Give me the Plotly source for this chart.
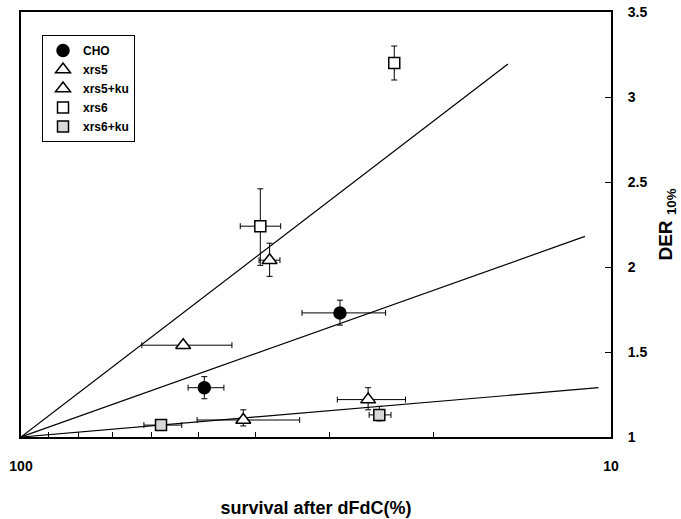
import plotly.graph_objects as go

# ---- data ----
series_names = ["CHO", "xrs5", "xrs5+ku", "xrs6", "xrs6+ku"]

cho_surv = [48.9, 28.8]
cho_surv_plus = [3.2, 4.6]
cho_surv_minus = [3.6, 4.7]
cho_der = [1.29, 1.73]
cho_der_plus = [0.065, 0.075]
cho_der_minus = [0.065, 0.072]

xrs5_surv = [53.1, 37.9]
xrs5_surv_plus = [9.3, 1.6]
xrs5_surv_minus = [9.2, 1.5]
xrs5_der = [1.54, 2.04]
xrs5_der_plus = [0.02, 0.10]
xrs5_der_minus = [0.02, 0.095]

xrs5ku_surv = [42.0, 25.8]
xrs5ku_surv_plus = [8.3, 3.3]
xrs5ku_surv_minus = [8.3, 3.5]
xrs5ku_der = [1.10, 1.22]
xrs5ku_der_plus = [0.06, 0.07]
xrs5ku_der_minus = [0.035, 0.06]

xrs6_surv = [39.3, 23.3]
xrs6_surv_plus = [3.2, 0.0]
xrs6_surv_minus = [3.0, 0.0]
xrs6_der = [2.24, 3.20]
xrs6_der_plus = [0.22, 0.10]
xrs6_der_minus = [0.23, 0.10]

xrs6ku_surv = [57.9, 24.7]
xrs6ku_surv_plus = [4.0, 1.0]
xrs6ku_surv_minus = [4.5, 1.1]
xrs6ku_der = [1.07, 1.13]
xrs6ku_der_plus = [0.01, 0.05]
xrs6ku_der_minus = [0.01, 0.035]

# reference lines: start (100, 1) -> end points
line_start = (100, 1.0)
line_ends_surv = [14.95, 11.07, 10.5]
line_ends_der = [3.194, 2.18, 1.29]

x_tick_vals = [100, 10]
x_tick_text = ["100", "10"]
x_minor_vals = [90, 80, 70, 60, 50, 40, 30, 20]
y_tick_vals = [1, 1.5, 2, 2.5, 3, 3.5]
y_tick_text = ["1", "1.5", "2", "2.5", "3", "3.5"]

FONT = "Liberation Sans, Arial, sans-serif"

fig = go.Figure()

for xe, ye in zip(line_ends_surv, line_ends_der):
    fig.add_trace(go.Scatter(
        x=[line_start[0], xe], y=[line_start[1], ye], mode="lines",
        line=dict(color="black", width=1.2), showlegend=False, hoverinfo="skip"))

def add_series(name, sx, sxp, sxm, dy, dyp, dym, symbol, fill, size):
    fig.add_trace(go.Scatter(
        x=sx, y=dy, mode="markers", name=name,
        marker=dict(symbol=symbol, size=size, color=fill,
                    line=dict(color="black", width=1.5)),
        error_x=dict(type="data", symmetric=False, array=sxp, arrayminus=sxm,
                     color="black", thickness=1, width=3),
        error_y=dict(type="data", symmetric=False, array=dyp, arrayminus=dym,
                     color="black", thickness=1, width=3),
    ))

add_series(series_names[0], cho_surv, cho_surv_plus, cho_surv_minus,
           cho_der, cho_der_plus, cho_der_minus, "circle", "black", 12)
add_series(series_names[1], xrs5_surv, xrs5_surv_plus, xrs5_surv_minus,
           xrs5_der, xrs5_der_plus, xrs5_der_minus, "triangle-up", "white", 13)
add_series(series_names[2], xrs5ku_surv, xrs5ku_surv_plus, xrs5ku_surv_minus,
           xrs5ku_der, xrs5ku_der_plus, xrs5ku_der_minus, "triangle-up", "white", 13)
add_series(series_names[3], xrs6_surv, xrs6_surv_plus, xrs6_surv_minus,
           xrs6_der, xrs6_der_plus, xrs6_der_minus, "square", "white", 11)
add_series(series_names[4], xrs6ku_surv, xrs6ku_surv_plus, xrs6ku_surv_minus,
           xrs6ku_der, xrs6ku_der_plus, xrs6ku_der_minus, "square", "#d9d9d9", 11)

fig.update_layout(
    width=681, height=519,
    margin=dict(l=21, r=70, t=12, b=82, autoexpand=False),
    paper_bgcolor="white", plot_bgcolor="white",
    font=dict(family=FONT, color="black", size=13, weight="bold"),
    showlegend=True,
    legend=dict(x=0.0356, y=0.946, xanchor="left", yanchor="top",
                bordercolor="black", borderwidth=1, bgcolor="white",
                font=dict(family=FONT, size=12, weight="bold"),
                tracegroupgap=0, itemwidth=30),
    xaxis=dict(type="log", range=[2, 1], tickmode="array",
               tickvals=x_tick_vals, ticktext=x_tick_text,
               ticks="", automargin=False,
               minor=dict(tickmode="array", tickvals=x_minor_vals, ticks="inside",
                          ticklen=5, tickwidth=1, tickcolor="black", showgrid=False),
               showline=True, linewidth=2, linecolor="black", mirror=True,
               showgrid=False, zeroline=False, ticklabelstandoff=15,
               tickfont=dict(family=FONT, size=14, weight="bold"),
               title=dict(text="survival after dFdC(%)", standoff=29,
                          font=dict(family=FONT, size=18, weight="bold"))),
    yaxis=dict(side="right", range=[1, 3.5], tickmode="array",
               tickvals=y_tick_vals, ticktext=y_tick_text, automargin=False,
               ticks="inside", ticklen=6, tickwidth=1, tickcolor="black",
               showline=True, linewidth=2, linecolor="black", mirror=True,
               showgrid=False, zeroline=False, ticklabelstandoff=12,
               tickfont=dict(family=FONT, size=14, weight="bold"),
               title=dict(text="DER <sub>10%</sub>", standoff=12,
                          font=dict(family=FONT, size=19, weight="bold"))),
)

fig.write_html("out.html")
